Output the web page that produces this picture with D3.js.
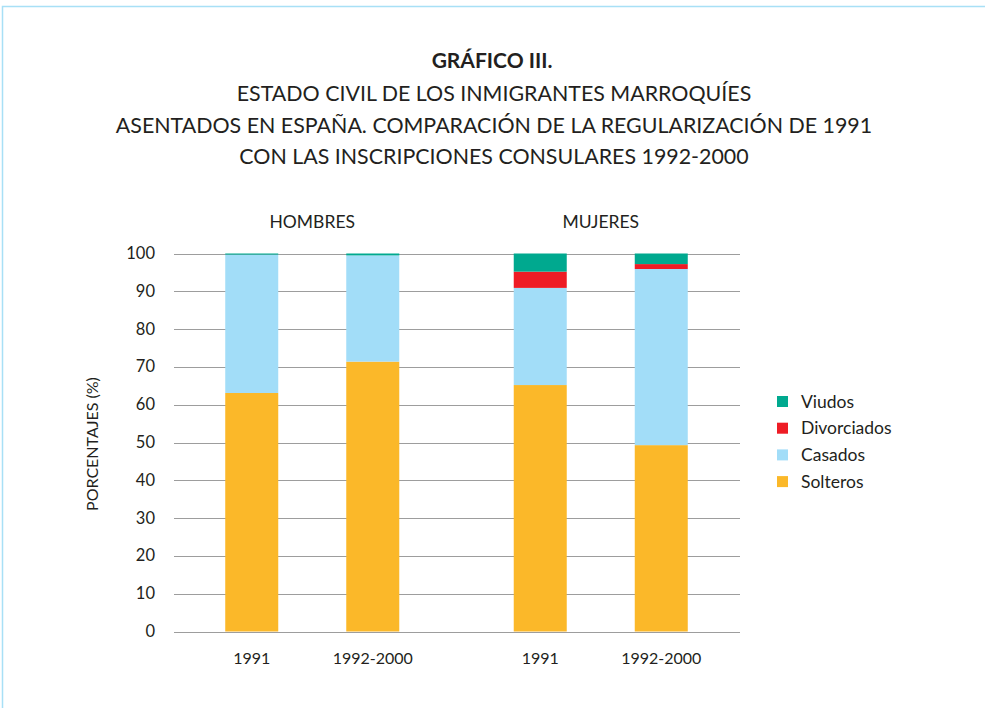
<!DOCTYPE html>
<html><head><meta charset="utf-8">
<script src="https://cdn.jsdelivr.net/npm/d3@7"></script>
<style>body{margin:0;background:#fff;} text{font-family:Lato, "Open Sans", sans-serif;fill:#231f20;}</style>
</head><body><svg id="c" width="985" height="708"></svg>
<script>
const groups = ["HOMBRES", "MUJERES"];
const periods = ["1991", "1992-2000"];
const seriesNames = ["Solteros", "Casados", "Divorciados", "Viudos"];
const solteros    = [63.1, 71.4, 65.2, 49.3];
const casados     = [36.6, 28.1, 25.7, 46.6];
const divorciados = [0.0, 0.0, 4.3, 1.3];
const viudos      = [0.3, 0.5, 4.8, 2.8];
const yTicks = [0,10,20,30,40,50,60,70,80,90,100];
const colors = ["#FBB829", "#A2DDF8", "#EE1C25", "#00A98F"];

const rows = [];
groups.forEach((g, gi) => periods.forEach((p, pi) => {
  const i = gi*2 + pi;
  rows.push({group: g, period: p, Solteros: solteros[i], Casados: casados[i], Divorciados: divorciados[i], Viudos: viudos[i]});
}));

const svg = d3.select("#c");
// frame
svg.append("path").attr("d","M2.5,708 L2.5,6.5 L985,6.5").attr("fill","none").attr("stroke","#A8E0F6").attr("stroke-width",1.5);

// titles
svg.append("text").attr("x",492).attr("y",68).attr("text-anchor","middle").attr("font-size",21).attr("font-weight","bold").text("GRÁFICO III.");
const sub = ["ESTADO CIVIL DE LOS INMIGRANTES MARROQUÍES","ASENTADOS EN ESPAÑA. COMPARACIÓN DE LA REGULARIZACIÓN DE 1991","CON LAS INSCRIPCIONES CONSULARES 1992-2000"];
sub.forEach((s,i)=>svg.append("text").attr("x",494).attr("y",101+i*31.5).attr("text-anchor","middle").attr("font-size",21.4).text(s));

const y = d3.scaleLinear().domain([0,100]).range([631.5,253.5]);
const x0 = d3.scaleBand().domain(groups).range([168,745]);
const x1 = d3.scaleBand().domain(periods).range([0,x0.bandwidth()]).paddingInner(0.562).paddingOuter(0.473);

// grid
const gx1 = 174, gx2 = 740;
svg.append("g").selectAll("line").data(yTicks).join("line")
  .attr("x1",gx1).attr("x2",gx2).attr("y1",d=>Math.round(y(d))+0.5).attr("y2",d=>Math.round(y(d))+0.5)
  .attr("stroke","#9d9d9d").attr("stroke-width",1.2);
svg.append("g").selectAll("text").data(yTicks).join("text")
  .attr("x",155).attr("y",d=>y(d)+5.5).attr("text-anchor","end").attr("font-size",16.5).text(d=>d);

// stacks
const stack = d3.stack().keys(seriesNames)(rows);
const col = d3.scaleOrdinal().domain(seriesNames).range(colors);
svg.append("g").selectAll("g").data(stack).join("g").attr("fill",d=>col(d.key))
  .selectAll("rect").data(d=>d).join("rect")
  .attr("x",d=>x0(d.data.group)+x1(d.data.period))
  .attr("width",x1.bandwidth())
  .attr("y",d=>y(d[1])).attr("height",d=>y(d[0])-y(d[1]));

// x labels
svg.append("g").selectAll("text").data(rows).join("text")
  .attr("x",d=>x0(d.group)+x1(d.period)+x1.bandwidth()/2).attr("y",664)
  .attr("text-anchor","middle").attr("font-size",16).text(d=>d.period);
svg.append("g").selectAll("text").data(groups).join("text")
  .attr("x",d=>x0(d)+x0.bandwidth()/2).attr("y",228).attr("text-anchor","middle").attr("font-size",17.5).text(d=>d);

// y title
svg.append("text").attr("transform","translate(98,444) rotate(-90)").attr("text-anchor","middle").attr("font-size",16).text("PORCENTAJES (%)");

// legend
const leg = seriesNames.slice().reverse();
const lg = svg.append("g").selectAll("g").data(leg).join("g").attr("transform",(d,i)=>`translate(777,${396+i*26.7})`);
lg.append("rect").attr("width",11).attr("height",11).attr("fill",d=>col(d));
lg.append("text").attr("x",24).attr("y",11.5).attr("font-size",17.5).text(d=>d);
</script></body></html>
